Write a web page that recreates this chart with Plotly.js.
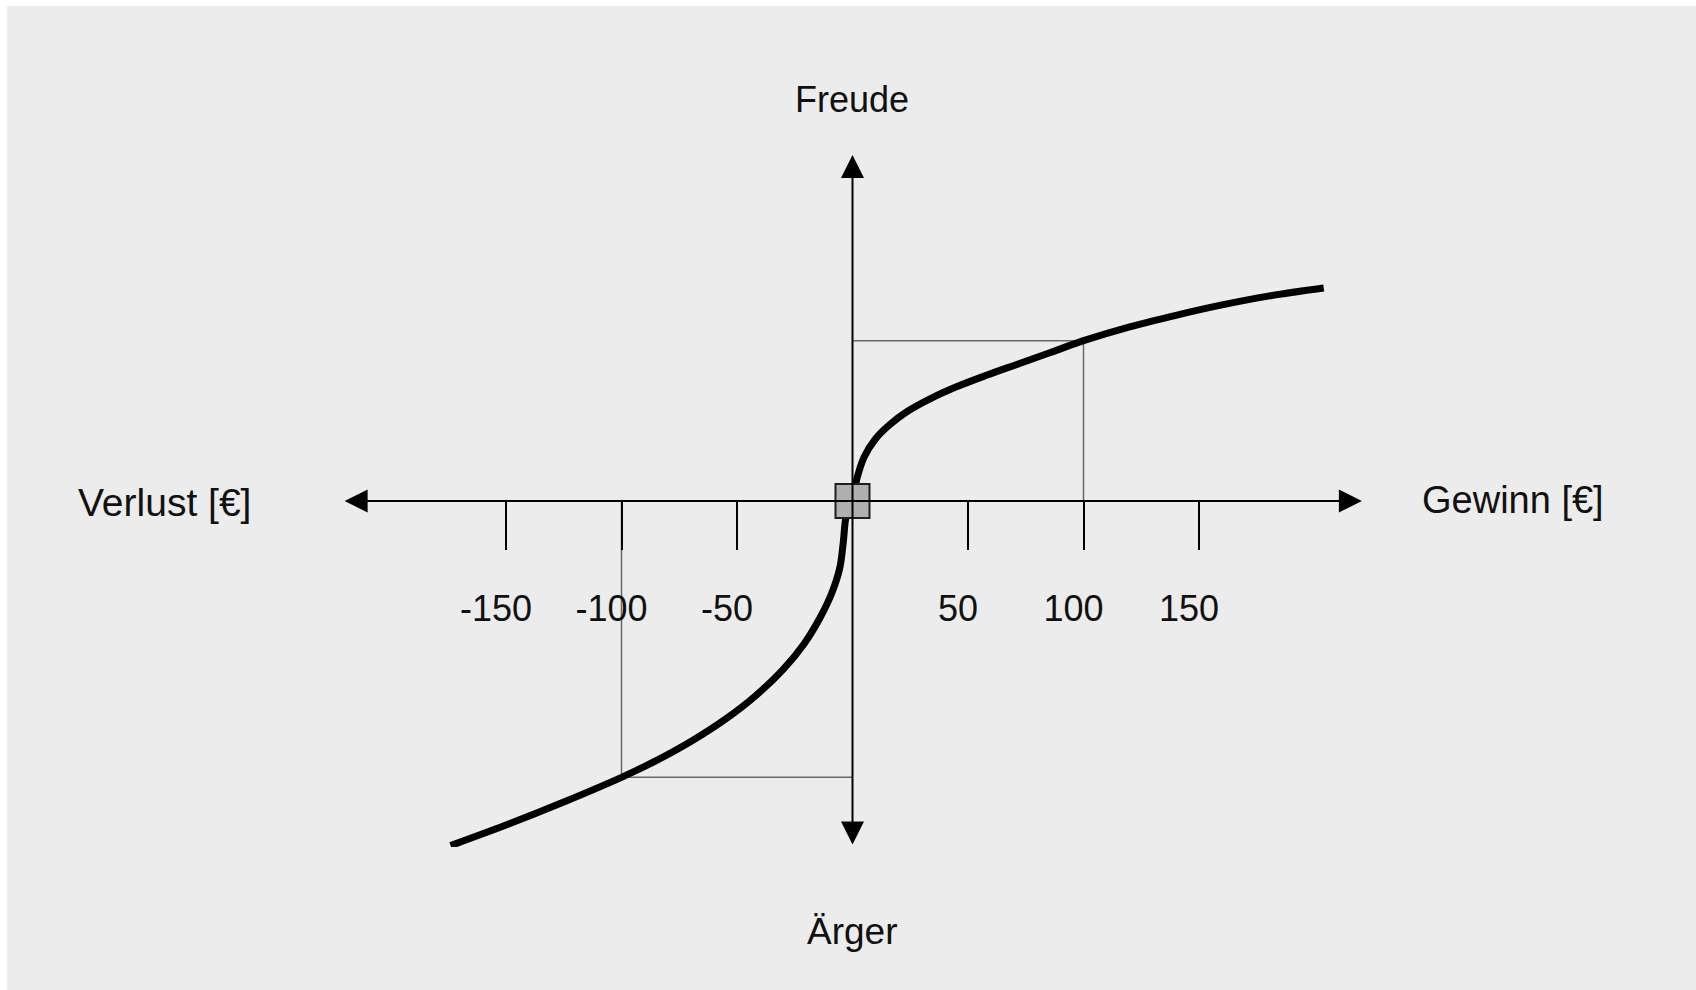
<!DOCTYPE html>
<html>
<head>
<meta charset="utf-8">
<script src="https://cdn.plot.ly/plotly-3.0.1.min.js"></script>
<style>
	html, body {margin: 0; padding: 0; background: #ffffff;}
	#chart {position: absolute; left: 7px; top: 6px; width: 1689px; height: 984px;}
</style>
</head>
<body>
<div id="chart"></div>
<script>
// value curve (x = Gewinn/Verlust in €, y = Freude/Ärger)
var lossX = [-174, -150, -125, -100, -85, -70, -55, -42, -30, -21, -14, -9, -5.5, -4, -3, -1.5, 0]
var lossY = [-149.4, -140.5, -130.5, -119.8, -112.6, -104.3, -94.6, -84.5, -73, -62, -50.5, -40, -29, -18, -8, -2, 0]
var gainX = [2, 5, 10, 16, 24, 34, 45, 58, 72, 86, 100, 120, 140, 160, 180, 204]
var gainY = [10, 19, 27, 33, 39, 44.5, 49.5, 54.5, 59.5, 64.5, 69.5, 75.5, 80.5, 85, 88.8, 92.3]

// helper lines for +100 and -100 €
var helpGainX = [0, 100, 100]
var helpGainY = [69.5, 69.5, 0]
var helpLossX = [0, -100, -100]
var helpLossY = [-119.8, -119.8, 0]

// reference point
var refX = [0]
var refY = [0]

var tickVals = [-150, -100, -50, 50, 100, 150]
var tickText = ['-150', '-100', '-50', '50', '100', '150']

var font = 'Liberation Sans, Arial, sans-serif'

var data = [
	{x: helpGainX, y: helpGainY, mode: 'lines', line: {color: '#6a6a6a', width: 1.5}, hoverinfo: 'skip'},
	{x: helpLossX, y: helpLossY, mode: 'lines', line: {color: '#6a6a6a', width: 1.5}, hoverinfo: 'skip'},
	{x: lossX.concat(gainX), y: lossY.concat(gainY), mode: 'lines', line: {color: '#000000', width: 7, shape: 'spline', smoothing: 1}},
	{x: refX, y: refY, mode: 'markers', marker: {symbol: 'square', size: 34, color: '#afafaf', line: {color: '#1e1e1e', width: 2}}}
]

var arrow = {text: '', showarrow: true, axref: 'x', ayref: 'y', arrowside: 'end+start',
	arrowhead: 2, startarrowhead: 2, arrowwidth: 2, arrowsize: 2.3, startarrowsize: 2.3,
	arrowcolor: '#000000', standoff: 0, startstandoff: 0}

var label = {showarrow: false, xref: 'paper', yref: 'paper', xanchor: 'center', yanchor: 'middle'}

var annotations = [
	Object.assign({}, arrow, {x: 220.5, y: 0, ax: -220.5, ay: 0}),
	Object.assign({}, arrow, {x: 0, y: 150, ax: 0, ay: -149.6}),
	Object.assign({}, label, {text: 'Freude', x: 0.4995, y: 1.0802}),
	Object.assign({}, label, {text: 'Ärger', x: 0.4995, y: -0.1228, font: {size: 37}}),
	Object.assign({}, label, {text: 'Verlust [€]', x: -0.1734, y: 0.4985, font: {size: 39}}),
	Object.assign({}, label, {text: 'Gewinn [€]', x: 1.1469, y: 0.5014, font: {size: 38}})
]

var layout = {
	width: 1689,
	height: 984,
	margin: {l: 335, r: 333, t: 149, b: 143},
	paper_bgcolor: '#ececec',
	plot_bgcolor: '#ececec',
	showlegend: false,
	font: {family: font, size: 36, color: '#111111'},
	xaxis: {
		range: [-221, 221],
		anchor: 'free',
		position: 0.5,
		showgrid: false,
		zeroline: false,
		showline: false,
		ticks: 'outside',
		ticklen: 48,
		tickwidth: 2,
		tickcolor: '#000000',
		tickvals: tickVals,
		ticktext: tickText,
		ticklabelstandoff: 28,
		ticklabelshift: -10,
		tickfont: {family: font, size: 36, color: '#111111'},
		fixedrange: true
	},
	yaxis: {
		range: [-150, 150],
		showgrid: false,
		zeroline: false,
		showline: false,
		showticklabels: false,
		ticks: '',
		fixedrange: true
	},
	annotations: annotations
}

Plotly.newPlot('chart', data, layout, {displayModeBar: false, staticPlot: true})
</script>
</body>
</html>
